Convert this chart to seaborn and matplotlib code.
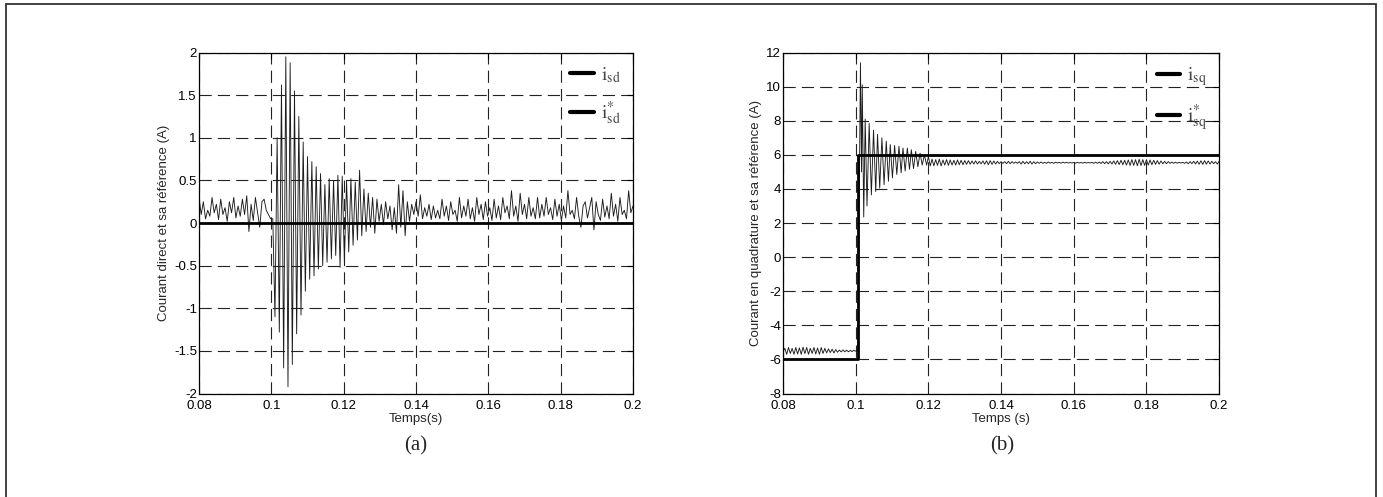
import matplotlib
matplotlib.use("Agg")
import matplotlib.pyplot as plt
from matplotlib.lines import Line2D
from matplotlib.patches import Rectangle
import seaborn as sns
import pandas as pd
import numpy as np

# ---- panel (a): direct current i_sd, sampled every 0.6 ms from 0.08 s ----
isd_step = 0.0006
isd_before = [0.30, 0.10, 0.25, 0.05, 0.15, 0.08, 0.30, 0.12, 0.22, 0.04,
              0.28, 0.10, 0.18, 0.02, 0.25, 0.12, 0.30, 0.06, 0.20, 0.08,
              0.28, 0.10, 0.32, -0.10, 0.22, 0.03, 0.30, 0.12, -0.05, 0.25,
              0.28, 0.15, 0.10, 0.05]
isd_transient = [0.05, -1.10, 1.00, -1.28, 1.62, -1.70, 1.95, -1.92, 1.88, -1.66,
                 1.55, -1.30, 1.25, -1.08, 0.95, -0.80, 0.78, -0.66, 0.72, -0.62,
                 0.66, -0.54, 0.58, -0.50, 0.45, -0.46, 0.52, -0.42, 0.50, -0.38,
                 0.56, -0.52, 0.55, -0.46, 0.50, -0.34, 0.52, -0.26, 0.48, -0.20,
                 0.62, -0.15, 0.40, -0.10, 0.35, -0.05, 0.30, -0.12, 0.28, 0.02,
                 0.22, -0.02, 0.25, 0.05, 0.20, -0.08, 0.18, -0.12, 0.45, -0.05,
                 0.38, -0.15, 0.25, 0.02, 0.22, 0.10, 0.25]
isd_after = [0.08, 0.33, 0.05, 0.18, 0.08, 0.22, 0.04, 0.20, 0.06, 0.15,
             0.05, 0.28, 0.08, 0.20, 0.03, 0.25, 0.10, 0.15, 0.02, 0.30,
             0.06, 0.20, 0.08, 0.28, 0.05, 0.18, 0.02, 0.30, 0.10, 0.22,
             0.04, 0.25, 0.08, 0.18, 0.03, 0.28, 0.06, 0.20, 0.04, 0.30,
             0.12, 0.20, 0.05, 0.38, 0.08, 0.20, 0.02, 0.35, 0.10, 0.22,
             0.05, 0.30, 0.08, 0.18, 0.05, 0.30, 0.06, 0.22, 0.08, 0.30,
             0.10, 0.18, 0.04, 0.28, 0.08, 0.22, 0.03, 0.20, 0.06, 0.38,
             0.10, 0.15, 0.05, 0.30, 0.08, -0.05, 0.20, 0.25, 0.06, 0.18,
             0.30, -0.08, 0.25, 0.10, 0.03, 0.28, 0.07, 0.20, 0.05, 0.35,
             0.08, 0.22, 0.02, 0.30, 0.10, 0.15, 0.05, 0.38, 0.12, 0.20]
isd_ref_time = [0.08, 0.2]
isd_ref_value = [0.0, 0.0]

# ---- panel (b): quadrature current i_sq ----
isq_step = 0.0005
isq_before = [-5.55, -5.35, -5.7, -5.3, -5.65, -5.35, -5.7, -5.3, -5.68, -5.32,
              -5.7, -5.28, -5.66, -5.3, -5.7, -5.35, -5.65, -5.3, -5.68, -5.33,
              -5.7, -5.3, -5.65, -5.35, -5.62, -5.38, -5.6, -5.4, -5.62, -5.42,
              -5.58, -5.45, -5.56, -5.44, -5.55, -5.46, -5.55, -5.47, -5.54, -5.46,
              -5.52, -5.5]
isq_transient_time = [0.1006, 0.1013, 0.1016, 0.1018, 0.1022, 0.1026, 0.1031, 0.1037,
                      0.1043, 0.1049, 0.1055, 0.1060, 0.1066, 0.1072, 0.1078, 0.1084,
                      0.1090, 0.1095, 0.1101, 0.1107, 0.1113, 0.1119, 0.1125, 0.1130,
                      0.1136, 0.1142, 0.1148, 0.1153, 0.1159, 0.1165, 0.1171, 0.1177,
                      0.1183, 0.1189, 0.1195, 0.1200]
isq_transient = [-5.5, 11.4, 5.0, 10.1, 2.35, 8.1, 3.0, 7.85,
                 3.65, 7.45, 3.85, 7.2, 4.05, 7.0, 4.25, 6.8,
                 4.45, 6.6, 4.65, 6.55, 4.85, 6.5, 4.95, 6.4,
                 5.05, 6.4, 5.15, 6.3, 5.2, 6.2, 5.3, 6.1,
                 5.4, 6.0, 5.4, 5.9]
isq_after = [5.35, 5.75, 5.35, 5.72, 5.38, 5.75, 5.35, 5.7, 5.4, 5.72,
             5.38, 5.7, 5.4, 5.68, 5.4, 5.7, 5.42, 5.68, 5.42, 5.66,
             5.44, 5.66, 5.45, 5.64, 5.46, 5.65, 5.46, 5.62, 5.47, 5.64,
             5.45, 5.65, 5.42, 5.66, 5.44, 5.64, 5.46, 5.62, 5.48, 5.6,
             5.5, 5.6, 5.48, 5.62, 5.48, 5.6, 5.5, 5.58, 5.5, 5.6,
             5.46, 5.62, 5.47, 5.6, 5.48, 5.62, 5.46, 5.6, 5.48, 5.58,
             5.5, 5.58, 5.5, 5.56, 5.5, 5.58, 5.51, 5.56, 5.5, 5.57,
             5.52, 5.56, 5.51, 5.57, 5.52, 5.56, 5.52, 5.55, 5.52, 5.56,
             5.51, 5.56, 5.52, 5.55, 5.51, 5.56, 5.52, 5.55, 5.52, 5.56,
             5.5, 5.57, 5.5, 5.58, 5.49, 5.6, 5.48, 5.6, 5.47, 5.62,
             5.46, 5.64, 5.44, 5.66, 5.43, 5.68, 5.42, 5.68, 5.4, 5.7,
             5.38, 5.72, 5.38, 5.72, 5.36, 5.74, 5.37, 5.72, 5.38, 5.72,
             5.4, 5.7, 5.42, 5.68, 5.44, 5.66, 5.45, 5.64, 5.47, 5.62,
             5.48, 5.6, 5.5, 5.58, 5.5, 5.57, 5.51, 5.56, 5.52, 5.56,
             5.5, 5.58, 5.48, 5.6, 5.48, 5.62, 5.46, 5.63, 5.45, 5.65,
             5.44, 5.66, 5.45, 5.64, 5.46, 5.62, 5.48, 5.6, 5.46, 5.62]
isq_ref_time = [0.08, 0.1006, 0.2]
isq_ref_value = [-6.0, 6.0, 6.0]

x_ticks = [0.08, 0.1, 0.12, 0.14, 0.16, 0.18, 0.2]
x_labels = ["0.08", "0.1", "0.12", "0.14", "0.16", "0.18", "0.2"]
a_yticks = [-2, -1.5, -1, -0.5, 0, 0.5, 1, 1.5, 2]
a_ylabels = ["-2", "-1.5", "-1", "-0.5", "0", "0.5", "1", "1.5", "2"]
b_yticks = [-8, -6, -4, -2, 0, 2, 4, 6, 8, 10, 12]
b_ylabels = ["-8", "-6", "-4", "-2", "0", "2", "4", "6", "8", "10", "12"]

sns.set_style("white")
plt.rcParams['font.family'] = ['Liberation Sans', 'DejaVu Sans']
plt.rcParams['mathtext.fontset'] = 'stix'

# build the time axes
isd_values = isd_before + isd_transient + isd_after
isd_time = 0.08 + isd_step * np.arange(len(isd_values))
isd_df = pd.DataFrame({"t": isd_time, "i": isd_values})

t_before = 0.08 + isq_step * np.arange(len(isq_before))
t_after = 0.1205 + isq_step * np.arange(len(isq_after))
isq_df = pd.DataFrame({
    "t": np.concatenate([t_before, isq_transient_time, t_after]),
    "i": isq_before + isq_transient + isq_after,
})


def draw_panel(ax, df, ref_t, ref_v, ylim, yticks, ylabels, ylabel, xlabel, labels):
    ax.set_facecolor("white")
    ax.grid(True, color="#222222", linestyle=(0, (11, 5.5)), linewidth=0.8)
    ax.set_axisbelow(True)

    sns.lineplot(data=df, x="t", y="i", ax=ax, color="#1c1c1c", linewidth=0.65,
                 estimator=None, sort=False)
    sns.lineplot(x=ref_t, y=ref_v, ax=ax, color="black", linewidth=2.0,
                 estimator=None, sort=False, drawstyle="steps-post")

    ax.set_xlim(0.08, 0.2)
    ax.set_ylim(*ylim)
    ax.set_xticks(x_ticks)
    ax.set_xticklabels(x_labels)
    ax.set_yticks(yticks)
    ax.set_yticklabels(ylabels)
    ax.tick_params(direction="in", length=4, width=0.8, labelsize=9.5,
                   top=True, right=True, colors="black")
    ax.tick_params(axis="x", pad=4.5)
    ax.tick_params(axis="y", pad=1.5)
    for s in ax.spines.values():
        s.set_visible(True)
        s.set_color("black")
        s.set_linewidth(0.9)

    ax.set_xlabel(xlabel, fontsize=9.5, labelpad=1)
    ax.set_ylabel(ylabel, fontsize=9.5, labelpad=3)

    handles = [Line2D([], [], color="black", linewidth=3),
               Line2D([], [], color="black", linewidth=3)]
    leg = ax.legend(handles, labels, loc="upper right", frameon=False,
                    handlelength=1.2, handletextpad=0.35, labelspacing=0.75,
                    fontsize=14, borderaxespad=0.25)
    for txt in leg.get_texts():
        txt.set_color("#444444")


fig = plt.figure(figsize=(13.83, 4.97), dpi=100)
ax_a = fig.add_axes([0.1439, 0.2082, 0.3138, 0.6861])
ax_b = fig.add_axes([0.5662, 0.2082, 0.3153, 0.6861])

draw_panel(ax_a, isd_df, isd_ref_time, isd_ref_value, (-2, 2), a_yticks, a_ylabels,
           "Courant direct et sa référence (A)", "Temps(s)",
           [r"$\mathrm{i}_{\mathrm{sd}}$", r"$\mathrm{i}^{*}_{\mathrm{sd}}$"])
draw_panel(ax_b, isq_df, isq_ref_time, isq_ref_value, (-8, 12), b_yticks, b_ylabels,
           "Courant en quadrature et sa référence (A)", "Temps (s)",
           [r"$\mathrm{i}_{\mathrm{sq}}$", r"$\mathrm{i}^{*}_{\mathrm{sq}}$"])

fig.text(416 / 1383, 1 - 446 / 497, "(a)", ha="center", va="center",
         fontsize=15, family="Liberation Serif")
fig.text(1002 / 1383, 1 - 446 / 497, "(b)", ha="center", va="center",
         fontsize=15, family="Liberation Serif")

# outer frame of the figure (bottom edge is cut off in the original)
fig.add_artist(Rectangle((6 / 1383, -0.05), 1370 / 1383, 1.05 - 4 / 497,
                         transform=fig.transFigure, fill=False,
                         edgecolor="#333333", linewidth=1.3))

fig.savefig("out.png", dpi=100, facecolor="white")
